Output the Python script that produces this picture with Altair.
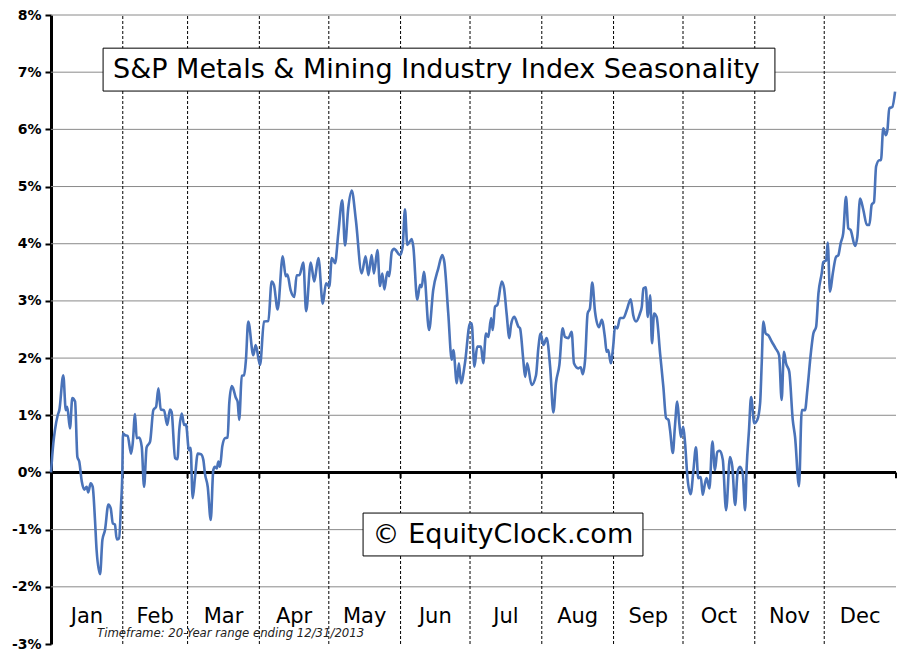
import altair as alt
import pandas as pd

# ---- data (day of year, % change) ----
days = [0, 1.0, 1.7, 2.9, 3.6, 5.3, 6.4, 7.0, 8.2, 9.2, 10.4, 11.4, 12.2, 13.3, 14.4, 15.4, 16.1, 17.1, 18.0, 19.0,
        19.7, 21.2, 22.2, 23.3, 24.8, 25.8, 26.7, 27.6, 28.4, 29.4, 30.2, 30.8, 31.1, 32.0, 33.1, 34.6, 35.3, 36.3,
        37.0, 38.1, 39.2, 40.2, 41.3, 42.8, 44.2, 45.4, 46.4, 47.4, 48.8, 50.2, 51.4, 52.1, 53.6, 54.6, 55.4, 56.5,
        57.5, 58.3, 59.6, 60.3, 61.2, 62.2, 63.4, 64.8, 65.8, 66.5, 67.7, 69.0, 70.1, 70.8, 71.6, 72.3, 73.0, 74.0,
        75.2, 76.3, 77.0, 78.1, 78.7, 79.8, 80.6, 81.3, 82.4, 83.4, 84.2, 85.2, 87.4, 88.4, 90.3, 92.0, 93.9, 95.3,
        96.3, 97.9, 100.1, 101.4, 102.1, 103.5, 105.1, 106.1, 107.3, 109.0, 110.2, 112.2, 113.7, 115.5, 117.4, 118.8,
        120.2, 121.3, 122.7, 124.1, 125.8, 127.0, 128.4, 129.9, 131.7, 134.2, 135.9, 137.1, 138.5, 139.5, 141.0,
        142.1, 143.1, 144.0, 145.3, 146.1, 147.2, 148.2, 150.8, 151.9, 152.9, 153.9, 155.8, 156.5, 158.2, 159.4,
        160.1, 161.1, 163.3, 165.1, 167.3, 169.0, 169.9, 171.6, 173.1, 173.8, 175.3, 176.2, 177.1, 178.8, 181.0,
        181.7, 182.9, 184.1, 185.7, 186.7, 187.9, 188.9, 190.1, 190.8, 191.8, 192.8, 194.7, 195.7, 196.8, 198.0,
        198.7, 200.1, 201.9, 202.6, 204.0, 204.8, 205.7, 207.6, 209.5, 210.5, 211.5, 212.7, 214.1, 215.6, 217.0,
        218.1, 219.6, 221.0, 222.0, 223.5, 224.9, 225.9, 227.8, 228.8, 229.7, 230.7, 231.8, 232.8, 233.8, 235.0,
        236.7, 237.9, 239.3, 240.0, 240.7, 241.8, 242.9, 243.6, 244.6, 245.8, 247.2, 248.7, 250.4, 251.5, 252.7,
        254.4, 255.2, 255.9, 256.9, 257.8, 258.8, 259.6, 260.5, 261.6, 263.1, 264.5, 265.7, 266.7, 267.4, 268.6,
        269.5, 270.5, 271.4, 272.1, 273.1, 273.9, 274.9, 276.3, 277.5, 278.6, 279.6, 280.7, 281.5, 282.5, 283.2,
        284.4, 285.7, 286.8, 287.8, 288.9, 290.2, 291.6, 293.3, 294.3, 295.5, 296.6, 297.6, 298.8, 299.8, 300.5,
        301.5, 302.4, 303.8, 305.1, 306.3, 307.0, 307.7, 308.7, 309.8, 311.3, 313.0, 314.5, 315.6, 316.6, 317.5,
        318.9, 320.4, 321.4, 323.1, 324.3, 325.7, 326.7, 328.2, 329.3, 330.5, 331.5, 332.9, 333.6, 334.8, 335.5,
        336.5, 337.7, 339.1, 340.1, 341.1, 342.2, 343.4, 344.4, 345.4, 347.3, 348.3, 349.5, 350.9, 352.4, 353.5,
        354.5, 355.5, 356.4, 357.8, 358.5, 359.5, 360.6, 361.3, 362.1, 363.4, 364.6]

values = [0.0, 0.51, 0.74, 1.00, 1.09, 1.70, 1.09, 1.15, 0.77, 1.30, 1.24, 0.27, 0.19, -0.16, -0.30, -0.25, -0.35,
          -0.19, -0.25, -0.83, -1.36, -1.78, -1.18, -1.01, -0.56, -0.63, -0.89, -0.91, -1.17, -1.15, -0.60, -0.02,
          0.68, 0.65, 0.64, 0.33, 0.51, 1.02, 0.60, 0.61, 0.45, -0.25, 0.44, 0.54, 1.09, 1.15, 1.47, 1.10, 1.09,
          0.83, 1.10, 1.06, 0.25, 0.23, 0.74, 1.03, 0.83, 0.84, 0.39, 0.43, -0.45, -0.08, 0.33, 0.32, 0.22, -0.02,
          -0.25, -0.83, 0.04, 0.10, 0.07, 0.19, 0.10, 0.46, 0.60, 0.61, 1.21, 1.51, 1.47, 1.31, 1.24, 0.92, 1.69,
          1.70, 1.97, 2.64, 2.05, 2.23, 1.88, 2.64, 2.65, 3.34, 3.28, 2.85, 3.78, 3.43, 3.46, 3.19, 3.07, 3.45,
          3.45, 3.67, 2.82, 3.67, 3.34, 3.75, 2.95, 3.31, 3.25, 3.75, 3.66, 4.18, 4.76, 3.97, 4.62, 4.93, 4.41,
          3.48, 3.78, 3.45, 3.80, 3.48, 3.89, 3.26, 3.48, 3.20, 3.51, 3.43, 3.86, 3.91, 3.80, 3.95, 4.60, 3.98,
          4.08, 3.95, 3.02, 3.28, 3.24, 3.51, 2.49, 3.19, 3.57, 3.80, 3.68, 2.78, 1.97, 2.14, 1.56, 1.91, 1.56,
          1.91, 2.61, 2.61, 1.85, 2.20, 2.20, 1.91, 2.43, 2.37, 2.70, 2.49, 2.90, 2.93, 3.34, 3.22, 2.78, 2.35,
          2.58, 2.72, 2.55, 2.52, 1.97, 1.67, 1.91, 1.53, 1.70, 2.17, 2.43, 2.23, 2.35, 1.85, 1.05, 1.56, 1.88,
          2.52, 2.37, 2.35, 2.46, 1.91, 1.82, 1.84, 1.72, 1.97, 2.78, 2.87, 3.32, 2.81, 2.54, 2.67, 2.35, 2.11,
          2.14, 1.91, 2.23, 2.55, 2.52, 2.70, 2.70, 2.84, 3.03, 2.75, 2.64, 2.78, 2.90, 3.22, 3.24, 2.72, 3.10,
          2.26, 2.78, 2.72, 2.08, 1.50, 0.95, 0.92, 0.74, 0.34, 0.80, 1.24, 0.86, 0.62, 0.80, 0.51, -0.08, -0.38,
          0.04, 0.44, -0.10, -0.08, -0.39, -0.19, -0.10, -0.28, 0.54, 0.04, 0.36, 0.38, 0.22, -0.66, 0.27, 0.10,
          -0.57, 0.01, 0.10, -0.02, -0.66, 0.10, 0.74, 1.32, 0.86, 0.92, 1.21, 1.91, 2.64, 2.43, 2.40, 2.29, 2.17,
          2.05, 1.27, 2.11, 1.91, 1.76, 0.92, 0.62, -0.24, 1.09, 1.09, 1.44, 2.08, 2.43, 2.55, 3.13, 3.48, 3.68,
          3.71, 4.02, 3.16, 3.48, 3.77, 3.80, 4.01, 4.18, 4.82, 4.27, 4.24, 3.96, 4.12, 4.79, 4.59, 4.33, 4.33,
          4.68, 4.73, 5.35, 5.46, 5.46, 6.02, 5.90, 5.99, 6.37, 6.39, 6.66]

month_names = ["Jan", "Feb", "Mar", "Apr", "May", "Jun", "Jul", "Aug", "Sep", "Oct", "Nov", "Dec"]
month_starts = [0, 31, 59, 90, 120, 151, 181, 212, 243, 273, 304, 334, 365]
y_ticks = [-3, -2, -1, 0, 1, 2, 3, 4, 5, 6, 7, 8]

title_text = "S&P Metals & Mining Industry Index Seasonality"
watermark_text = "\u00a9 EquityClock.com"
footer_text = "Timeframe: 20-Year range ending 12/31/2013"

assert len(days) == len(values), (len(days), len(values))

FONT = "DejaVu Sans"
LINE_BLUE = "#4a73b9"

xs = alt.Scale(domain=[0, 365], nice=False, zero=False)
ys = alt.Scale(domain=[-3, 8], nice=False, zero=False)

line_df = pd.DataFrame({"day": days, "value": values})
mid_df = pd.DataFrame({
    "month": month_names,
    "mid": [(month_starts[i] + month_starts[i + 1]) / 2 for i in range(12)],
    "ypos": [-2.53] * 12,
})
grid_df = pd.DataFrame({"g": [t for t in y_ticks if t not in (-3, 0)], "a": 0, "b": 365})
div_df = pd.DataFrame({"day": month_starts[1:12], "lo": -3, "hi": 8})
tick_df = pd.DataFrame({"day": month_starts[1:], "y0": 0.0, "y1": -0.1})
zero_df = pd.DataFrame({"a": [0], "b": [365], "v": [0]})

gridlines = alt.Chart(grid_df).mark_rule(color="#8a8a8a", strokeWidth=1).encode(
    x=alt.X("a:Q", scale=xs, axis=None), x2="b:Q",
    y=alt.Y("g:Q", scale=ys, axis=alt.Axis(
        values=y_ticks, labelExpr="datum.value + '%'", title=None, grid=False,
        domainColor="black", domainWidth=3,
        tickColor="black", tickWidth=2, tickSize=6,
        labelFont=FONT, labelFontWeight="bold", labelFontSize=14,
        labelColor="black", labelPadding=4)),
)

dividers = alt.Chart(div_df).mark_rule(color="black", strokeWidth=1, strokeDash=[3, 2]).encode(
    x=alt.X("day:Q", scale=xs), y=alt.Y("lo:Q", scale=ys), y2="hi:Q")

zero_line = alt.Chart(zero_df).mark_rule(color="black", strokeWidth=3).encode(
    x=alt.X("a:Q", scale=xs), x2="b:Q", y=alt.Y("v:Q", scale=ys))

zero_ticks = alt.Chart(tick_df).mark_rule(color="black", strokeWidth=2).encode(
    x=alt.X("day:Q", scale=xs), y=alt.Y("y0:Q", scale=ys), y2="y1:Q")

month_labels = alt.Chart(mid_df).mark_text(
    font=FONT, fontSize=21, color="black", baseline="middle", align="center").encode(
    x=alt.X("mid:Q", scale=xs), y=alt.Y("ypos:Q", scale=ys), text="month:N")

box_df = pd.DataFrame({
    "x0": [22.5, 134.8], "x1": [312.7, 255.7],
    "y0": [7.42, -0.71], "y1": [6.67, -1.46],
})
boxes = alt.Chart(box_df).mark_rect(fill="white", stroke="black", strokeWidth=1).encode(
    x=alt.X("x0:Q", scale=xs), x2="x1:Q", y=alt.Y("y0:Q", scale=ys), y2="y1:Q")

title_mark = alt.Chart(pd.DataFrame({"t": [title_text], "x": [26.8], "y": [7.04]})).mark_text(
    font=FONT, fontSize=27, color="black", align="left", baseline="middle").encode(
    x=alt.X("x:Q", scale=xs), y=alt.Y("y:Q", scale=ys), text="t:N")

water_mark = alt.Chart(pd.DataFrame({"t": [watermark_text], "x": [195.2], "y": [-1.10]})).mark_text(
    font=FONT, fontSize=27, color="black", align="center", baseline="middle").encode(
    x=alt.X("x:Q", scale=xs), y=alt.Y("y:Q", scale=ys), text="t:N")

footer = alt.Chart(pd.DataFrame({"t": [footer_text], "x": [19.9], "y": [-2.81]})).mark_text(
    font=FONT, fontSize=11.7, fontStyle="italic", color="#222222", align="left", baseline="middle").encode(
    x=alt.X("x:Q", scale=xs), y=alt.Y("y:Q", scale=ys), text="t:N")

line = alt.Chart(line_df).mark_line(color=LINE_BLUE, strokeWidth=2.6, interpolate="monotone").encode(
    x=alt.X("day:Q", scale=xs), y=alt.Y("value:Q", scale=ys))

chart = alt.layer(
    gridlines, dividers, boxes, title_mark, water_mark, month_labels, footer,
    zero_line, zero_ticks, line,
).properties(
    width=845, height=629,
    padding={"left": 43, "top": 7, "right": 7, "bottom": 9},
    autosize=alt.AutoSizeParams(type="none"),
    background="white",
).configure_view(stroke=None)

chart.save("out.html", embed_options={"renderer": "svg", "actions": False})
